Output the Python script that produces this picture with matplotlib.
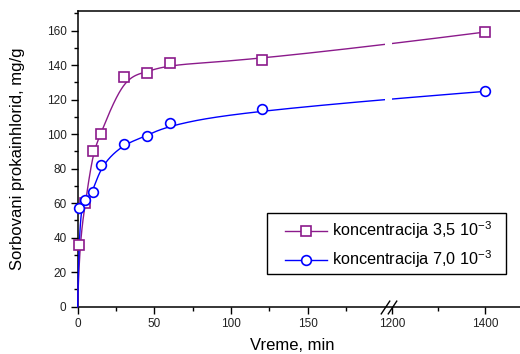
import numpy as np
import matplotlib
matplotlib.use('Agg')
import matplotlib.pyplot as plt
from matplotlib.patches import Rectangle

plt.rcParams['font.family'] = ['Liberation Sans', 'DejaVu Sans']
plt.rcParams['mathtext.fontset'] = 'custom'
plt.rcParams['mathtext.rm'] = 'Liberation Sans'
plt.rcParams['mathtext.it'] = 'Liberation Sans:italic'

# data
vreme = [1, 5, 10, 15, 30, 45, 60, 120, 1400]
konc_35 = [36, 60, 90, 100, 133.3, 135.7, 141.2, 142.8, 159.2]
vreme_70 = [1, 5, 10, 15, 30, 45, 60, 120, 1400]
konc_70 = [57.2, 62, 66.3, 81.9, 94.5, 98.7, 106.2, 114.5, 124.8]

labels = ['koncentracija 3,5 10$^{-3}$', 'koncentracija 7,0 10$^{-3}$']
colors = ['#8B1A8B', '#0000FF']
markers = ['s', 'o']

xticks = [0, 50, 100, 150, 1200, 1400]
xminor = [25, 75, 125, 175, 1300]

# broken axis: 0..200 and 1200.. with a small gap
B1, B2, GAP, K = 200.0, 1200.0, 4.7, 0.3044


def forward(x):
    x = np.asarray(x, float)
    return np.where(x <= B1, x,
                    np.where(x >= B2, B1 + GAP + K * (x - B2),
                             B1 + (x - B1) * GAP / (B2 - B1)))


def inverse(u):
    u = np.asarray(u, float)
    return np.where(u <= B1, u,
                    np.where(u >= B1 + GAP, B2 + (u - B1 - GAP) / K,
                             B1 + (u - B1) * (B2 - B1) / GAP))


def bspline(P, num=800):
    # clamped uniform cubic B-spline through control points P
    P = np.asarray(P, float)
    n, k = len(P), 3
    knots = np.concatenate([np.zeros(k), np.arange(n - k + 1), np.full(k, n - k)])
    t = np.linspace(0, n - k, num)
    t[-1] -= 1e-9
    N = np.array([(knots[i] <= t) & (t < knots[i + 1])
                  for i in range(len(knots) - 1)], float).T
    for d in range(1, k + 1):
        Nn = np.zeros((num, len(knots) - 1 - d))
        for i in range(len(knots) - 1 - d):
            a = knots[i + d] - knots[i]
            b = knots[i + d + 1] - knots[i + 1]
            if a > 0:
                Nn[:, i] += (t - knots[i]) / a * N[:, i]
            if b > 0:
                Nn[:, i] += (knots[i + d + 1] - t) / b * N[:, i + 1]
        N = Nn
    return N @ P


def curve(xs, ys):
    u = forward([0] + list(xs))
    P = np.column_stack([u, [0] + list(ys)])
    c = bspline(P)
    return inverse(c[:, 0]), c[:, 1]


fig = plt.figure(figsize=(5.2, 3.54), dpi=100)
ax = fig.add_axes([0.1494, 0.1336, 0.8506, 0.8354])
ax.set_xscale('function', functions=(forward, inverse))

for xs, ys, c, mk, ms, lab in [(vreme, konc_35, colors[0], markers[0], 6.5, labels[0]),
                               (vreme_70, konc_70, colors[1], markers[1], 7, labels[1])]:
    cx, cy = curve(xs, ys)
    ax.plot(cx, cy, color=c, lw=1.0, zorder=3, clip_on=False)
    ax.plot(xs, ys, ls='none', marker=mk, ms=ms, mfc='white', mec=c, mew=1.2,
            zorder=5, clip_on=False)
    ax.plot([], [], color=c, lw=1.0, marker=mk, ms=ms, mfc='white', mec=c,
            mew=1.2, label=lab)

# gap in the lines at the axis break
ax.axvspan(B1, B2, ymin=0.01, ymax=0.99, color='white', zorder=4, lw=0)

ax.set_xlim(0, 1474.6)
ax.set_ylim(0, 171.4)
ax.set_xticks(xticks)
ax.set_xticks(xminor, minor=True)
ax.set_xticklabels([str(v) for v in xticks])
ax.set_yticks(np.arange(0, 161, 20))
ax.set_yticks(np.arange(10, 171, 20), minor=True)

ax.spines['right'].set_visible(False)
for s in ['left', 'bottom', 'top']:
    ax.spines[s].set_linewidth(1.1)
ax.tick_params(which='major', direction='out', length=5, width=1.0,
               labelsize=8.5, colors='black', labelcolor='#222222', pad=3)
ax.tick_params(which='minor', direction='out', length=3, width=1.0)
ax.tick_params(top=False, right=False, which='both')

# break marks
slash = [(-0.5, -0.75), (0.5, 0.75)]
ax.plot([B1, B2], [0, 0], ls='none', marker=slash, ms=10, mew=1.0,
        color='black', transform=ax.get_xaxis_transform(), clip_on=False,
        zorder=6)

ax.set_xlabel('Vreme, min', fontsize=12)
ax.xaxis.set_label_coords(0.485, -0.105)
ax.set_ylabel('Sorbovani prokainhlorid, mg/g', fontsize=12)
ax.yaxis.set_label_coords(-0.12, 0.5)

# legend box
ax.add_patch(Rectangle((0.428, 0.1106), 0.54, 0.205, transform=ax.transAxes,
                       facecolor='white', edgecolor='black', lw=1.0,
                       zorder=6, clip_on=False))
leg = ax.legend(loc='center left', bbox_to_anchor=(0.4687, 0.2087),
                fontsize=11.7, frameon=False, handlelength=2.6,
                handletextpad=0.29, borderpad=0, labelspacing=0.45,
                borderaxespad=0)
leg.set_zorder(7)

fig.savefig('out.png', dpi=100)
